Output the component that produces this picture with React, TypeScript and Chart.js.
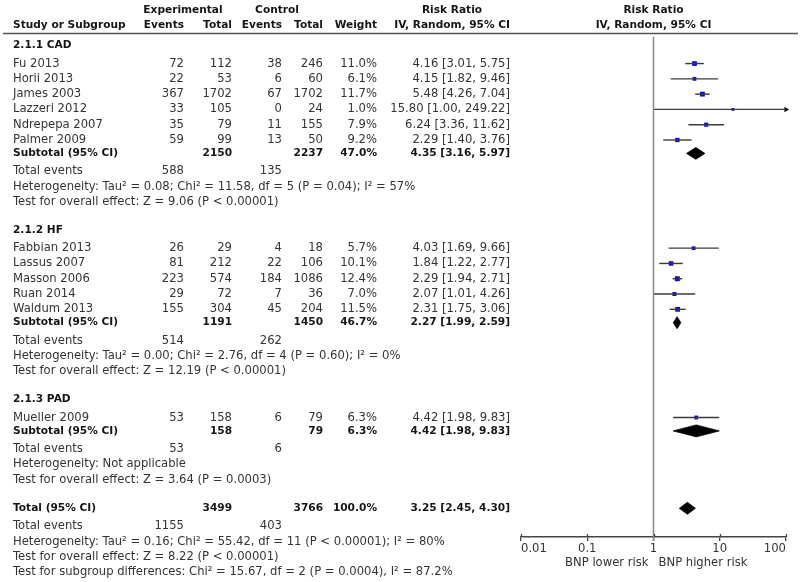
import React, { useEffect, useRef } from "react";
import { Chart, registerables } from "chart.js";
Chart.register(...registerables);

// ---------- data ----------
const groupNames = ["2.1.1 CAD", "2.1.2 HF", "2.1.3 PAD"];
const studies = ["Fu 2013", "Horii 2013", "James 2003", "Lazzeri 2012", "Ndrepepa 2007", "Palmer 2009", "Fabbian 2013", "Lassus 2007", "Masson 2006", "Ruan 2014", "Waldum 2013", "Mueller 2009"];
const studyGroup = [0, 0, 0, 0, 0, 0, 1, 1, 1, 1, 1, 2];
const expEvents = [72, 22, 367, 33, 35, 59, 26, 81, 223, 29, 155, 53];
const expTotal = [112, 53, 1702, 105, 79, 99, 29, 212, 574, 72, 304, 158];
const ctlEvents = [38, 6, 67, 0, 11, 13, 4, 22, 184, 7, 45, 6];
const ctlTotal = [246, 60, 1702, 24, 155, 50, 18, 106, 1086, 36, 204, 79];
const weights = [11.0, 6.1, 11.7, 1.0, 7.9, 9.2, 5.7, 10.1, 12.4, 7.0, 11.5, 6.3];
const rr = [4.16, 4.15, 5.48, 15.8, 6.24, 2.29, 4.03, 1.84, 2.29, 2.07, 2.31, 4.42];
const rrLo = [3.01, 1.82, 4.26, 1.0, 3.36, 1.4, 1.69, 1.22, 1.94, 1.01, 1.75, 1.98];
const rrHi = [5.75, 9.46, 7.04, 249.22, 11.62, 3.76, 9.66, 2.77, 2.71, 4.26, 3.06, 9.83];

const subExpTotal = [2150, 1191, 158];
const subCtlTotal = [2237, 1450, 79];
const subWeight = [47.0, 46.7, 6.3];
const subRR = [4.35, 2.27, 4.42];
const subLo = [3.16, 1.99, 1.98];
const subHi = [5.97, 2.59, 9.83];
const subExpEvents = [588, 514, 53];
const subCtlEvents = [135, 262, 6];
const subHeterogeneity = [
  "Heterogeneity: Tau² = 0.08; Chi² = 11.58, df = 5 (P = 0.04); I² = 57%",
  "Heterogeneity: Tau² = 0.00; Chi² = 2.76, df = 4 (P = 0.60); I² = 0%",
  "Heterogeneity: Not applicable",
];
const subOverall = [
  "Test for overall effect: Z = 9.06 (P < 0.00001)",
  "Test for overall effect: Z = 12.19 (P < 0.00001)",
  "Test for overall effect: Z = 3.64 (P = 0.0003)",
];

const totalExp = 3499;
const totalCtl = 3766;
const totalWeight = 100.0;
const totalRR = [3.25, 2.45, 4.3];
const totalEvents = [1155, 403];
const totalHeterogeneity = "Heterogeneity: Tau² = 0.16; Chi² = 55.42, df = 11 (P < 0.00001); I² = 80%";
const totalOverall = "Test for overall effect: Z = 8.22 (P < 0.00001)";
const subgroupDiff = "Test for subgroup differences: Chi² = 15.67, df = 2 (P = 0.0004), I² = 87.2%";

const xTicks = [0.01, 0.1, 1, 10, 100];
const xTickLabels = ["0.01", "0.1", "1", "10", "100"];
const favoursLeft = "BNP lower risk";
const favoursRight = "BNP higher risk";

// ---------- layout ----------
const FONT = '"DejaVu Sans", Verdana, sans-serif';
const FS = 11.6;
const FSB = 10.6;
const AXIS_Y = 537;
const C = { label: 13, expEv: 184, expTot: 232, ctlEv: 282, ctlTot: 323, weight: 377, rr: 510 };

function buildLayout() {
  const groupY: number[] = [];
  const studyY: number[] = new Array(studies.length).fill(0);
  const subY: number[] = [], evY: number[] = [], hetY: number[] = [], testY: number[] = [];
  let y = 42;
  groupNames.forEach((_, gi) => {
    if (gi > 0) y += 28.5;
    groupY.push(y);
    let first = true;
    studies.forEach((_, si) => {
      if (studyGroup[si] !== gi) return;
      y += first ? 18 : 15.4;
      first = false;
      studyY[si] = y;
    });
    y += 13.5; subY.push(y);
    y += 18; evY.push(y);
    y += 15.5; hetY.push(y);
    y += 15.5; testY.push(y);
  });
  y += 29; const totY = y;
  y += 18; const totEvY = y;
  y += 15.5; const totHetY = y;
  y += 15.5; const totTestY = y;
  y += 15.5; const diffY = y;
  return { groupY, studyY, subY, evY, hetY, testY, totY, totEvY, totHetY, totTestY, diffY };
}

const fmtRR = (e: number, l: number, h: number) => `${e.toFixed(2)} [${l.toFixed(2)}, ${h.toFixed(2)}]`;

export default function App() {
  const ref = useRef<HTMLCanvasElement>(null);
  useEffect(() => {
    document.body.style.margin = "0";
    const L = buildLayout();
    const DH = 6;

    const datasets: any[] = [];
    // reference line at 1
    datasets.push({
      data: [{ x: 1, y: 33 }, { x: 1, y: AXIS_Y + 4 }],
      showLine: true, borderColor: "#8c8c8c", borderWidth: 1.6, pointRadius: 0, clip: false,
    });
    // CI lines
    studies.forEach((_, i) => {
      datasets.push({
        data: [{ x: rrLo[i], y: L.studyY[i] }, { x: rrHi[i], y: L.studyY[i] }],
        showLine: true, borderColor: "#3a3a3a", borderWidth: 1.4, pointRadius: 0,
      });
    });
    // arrows for CIs beyond the axis
    datasets.push({
      data: studies.map((_, i) => (rrHi[i] > 100 ? { x: 100, y: L.studyY[i] } : null)).filter(Boolean),
      pointStyle: "triangle", rotation: 90, pointRadius: 3.2, backgroundColor: "#111", borderColor: "#111", borderWidth: 0, clip: false,
    });
    // squares
    datasets.push({
      data: studies.map((_, i) => ({ x: rr[i], y: L.studyY[i] })),
      pointStyle: "rect",
      pointRadius: weights.map((w) => 1.9 + w * 0.13),
      backgroundColor: "#0a0ad8", borderColor: "#0a0ad8", borderWidth: 0,
    });
    // diamonds
    const diamonds = subRR.map((e, g) => [subLo[g], e, subHi[g], L.subY[g]]);
    diamonds.push([totalRR[1], totalRR[0], totalRR[2], L.totY]);
    diamonds.forEach(([lo, e, hi, y]) => {
      datasets.push({
        data: [{ x: lo, y }, { x: e, y: y - DH }, { x: hi, y }, { x: e, y: y + DH }, { x: lo, y }],
        showLine: true, fill: "shape", backgroundColor: "#000", borderColor: "#000", borderWidth: 0.8, pointRadius: 0, tension: 0,
      });
    });

    const tablePlugin = {
      id: "forestTable",
      afterDraw(chart: any) {
        const ctx = chart.ctx as CanvasRenderingContext2D;
        const xs = chart.scales.x;
        const ys = chart.scales.y;
        const py = (v: number) => ys.getPixelForValue(v);
        const t = (s: string, x: number, y: number, align: CanvasTextAlign = "left", bold = false) => {
          ctx.font = bold ? `bold ${FSB}px ${FONT}` : `${FS}px ${FONT}`;
          ctx.fillStyle = bold ? "#151515" : "#333";
          ctx.textAlign = align;
          ctx.textBaseline = "middle";
          ctx.fillText(s, x, y);
        };
        ctx.save();
        // upward half of the axis tick marks
        ctx.strokeStyle = "#444";
        ctx.lineWidth = 1.3;
        xTicks.forEach((v) => {
          const px = Math.round(xs.getPixelForValue(v)) + 0.5;
          ctx.beginPath();
          ctx.moveTo(px, AXIS_Y - 3);
          ctx.lineTo(px, AXIS_Y);
          ctx.stroke();
        });
        // headers
        t("Experimental", 183, 10, "center", true);
        t("Control", 277, 10, "center", true);
        t("Study or Subgroup", C.label, 25, "left", true);
        t("Events", C.expEv, 25, "right", true);
        t("Total", C.expTot, 25, "right", true);
        t("Events", C.ctlEv, 25, "right", true);
        t("Total", C.ctlTot, 25, "right", true);
        t("Weight", C.weight, 25, "right", true);
        t("Risk Ratio", 452, 10, "center", true);
        t("IV, Random, 95% CI", C.rr, 25, "right", true);
        const x1 = xs.getPixelForValue(1);
        t("Risk Ratio", x1, 10, "center", true);
        t("IV, Random, 95% CI", x1, 25, "center", true);
        ctx.strokeStyle = "#555";
        ctx.lineWidth = 1.5;
        ctx.beginPath();
        ctx.moveTo(3, 33.5);
        ctx.lineTo(798, 33.5);
        ctx.stroke();

        groupNames.forEach((g, gi) => {
          t(g, C.label, py(L.groupY[gi]), "left", true);
          studies.forEach((s, i) => {
            if (studyGroup[i] !== gi) return;
            const y = py(L.studyY[i]);
            t(s, C.label, y);
            t(String(expEvents[i]), C.expEv, y, "right");
            t(String(expTotal[i]), C.expTot, y, "right");
            t(String(ctlEvents[i]), C.ctlEv, y, "right");
            t(String(ctlTotal[i]), C.ctlTot, y, "right");
            t(weights[i].toFixed(1) + "%", C.weight, y, "right");
            t(fmtRR(rr[i], rrLo[i], rrHi[i]), C.rr, y, "right");
          });
          const sy = py(L.subY[gi]);
          t("Subtotal (95% CI)", C.label, sy, "left", true);
          t(String(subExpTotal[gi]), C.expTot, sy, "right", true);
          t(String(subCtlTotal[gi]), C.ctlTot, sy, "right", true);
          t(subWeight[gi].toFixed(1) + "%", C.weight, sy, "right", true);
          t(fmtRR(subRR[gi], subLo[gi], subHi[gi]), C.rr, sy, "right", true);
          const ey = py(L.evY[gi]);
          t("Total events", C.label, ey);
          t(String(subExpEvents[gi]), C.expEv, ey, "right");
          t(String(subCtlEvents[gi]), C.ctlEv, ey, "right");
          t(subHeterogeneity[gi], C.label, py(L.hetY[gi]));
          t(subOverall[gi], C.label, py(L.testY[gi]));
        });
        const ty = py(L.totY);
        t("Total (95% CI)", C.label, ty, "left", true);
        t(String(totalExp), C.expTot, ty, "right", true);
        t(String(totalCtl), C.ctlTot, ty, "right", true);
        t(totalWeight.toFixed(1) + "%", C.weight, ty, "right", true);
        t(fmtRR(totalRR[0], totalRR[1], totalRR[2]), C.rr, ty, "right", true);
        const tey = py(L.totEvY);
        t("Total events", C.label, tey);
        t(String(totalEvents[0]), C.expEv, tey, "right");
        t(String(totalEvents[1]), C.ctlEv, tey, "right");
        t(totalHeterogeneity, C.label, py(L.totHetY));
        t(totalOverall, C.label, py(L.totTestY));
        t(subgroupDiff, C.label, py(L.diffY));

        // favours labels
        t(favoursLeft, x1 - 5, 562.5, "right");
        t(favoursRight, x1 + 5, 562.5, "left");
        ctx.restore();
      },
    };

    const chart = new Chart(ref.current!, {
      type: "scatter",
      data: { datasets },
      options: {
        animation: false,
        responsive: false,
        devicePixelRatio: 1,
        layout: { padding: { left: 521, right: 14, top: 0, bottom: 0 } },
        plugins: { legend: { display: false }, tooltip: { enabled: false } },
        scales: {
          x: {
            type: "logarithmic",
            min: 0.01,
            max: 100,
            afterBuildTicks: (scale: any) => {
              scale.ticks = xTicks.map((v) => ({ value: v }));
            },
            afterFit: (scale: any) => {
              scale.height = 582 - AXIS_Y;
            },
            ticks: {
              callback: (v: any) => xTickLabels[xTicks.indexOf(Number(v))] ?? "",
              font: { family: FONT, size: FS },
              color: "#333",
              padding: 1,
              align: "inner",
              maxRotation: 0,
              autoSkip: false,
            },
            grid: { drawOnChartArea: false, drawTicks: true, tickLength: 4, color: "#444", lineWidth: 1.3 },
            border: { display: true, color: "#444", width: 1.5 },
          },
          y: { type: "linear", min: 0, max: AXIS_Y, reverse: true, display: false },
        },
      },
      plugins: [tablePlugin],
    } as any);
    return () => chart.destroy();
  }, []);
  return (
    <div style={{ position: "absolute", left: 0, top: 0, width: 800, height: 582, background: "#fff" }}>
      <canvas ref={ref} width={800} height={582} style={{ display: "block", width: 800, height: 582 }} />
    </div>
  );
}
